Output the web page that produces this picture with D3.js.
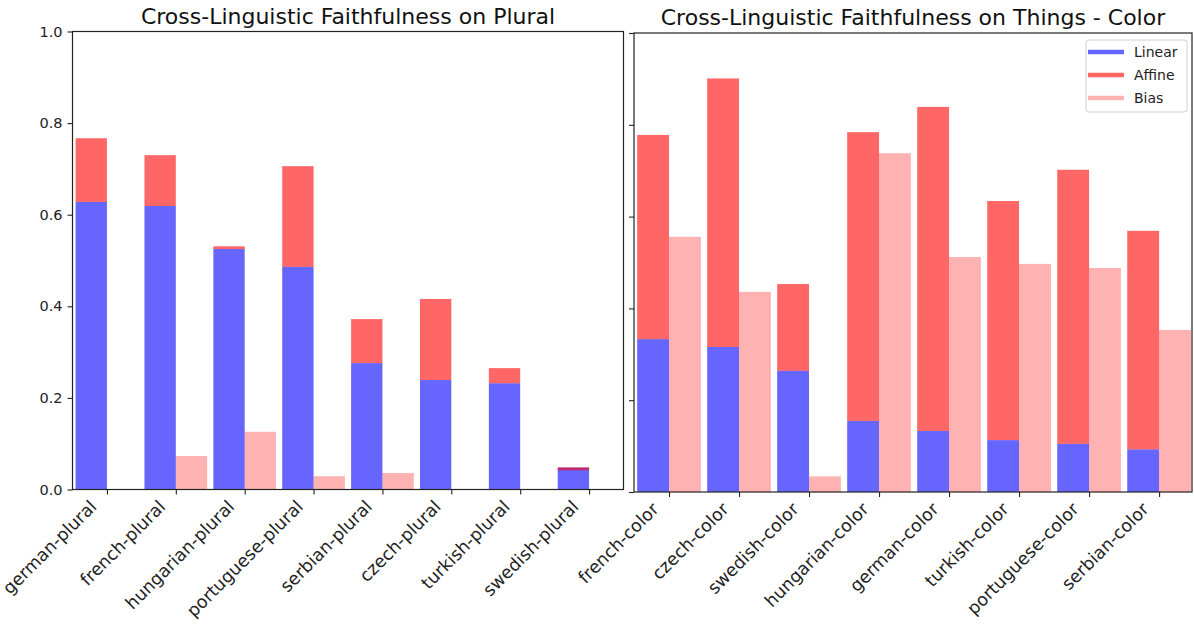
<!DOCTYPE html>
<html>
<head>
<meta charset="utf-8">
<script src="https://cdn.jsdelivr.net/npm/d3@7"></script>
<style>
  html, body { margin: 0; padding: 0; background: #fff; }
  svg { display: block; font-family: "DejaVu Sans", sans-serif; }
</style>
</head>
<body>
<svg id="chart" width="1194" height="628"></svg>
<script>
// Plural probe results
const pluralCats = ["german-plural", "french-plural", "hungarian-plural", "portuguese-plural",
                    "serbian-plural", "czech-plural", "turkish-plural", "swedish-plural"];
const pluralLinear = [0.628, 0.619, 0.525, 0.486, 0.276, 0.239, 0.232, 0.048];
const pluralAffine = [0.767, 0.730, 0.531, 0.706, 0.372, 0.416, 0.265, 0.042];
const pluralBias   = [0.000, 0.073, 0.126, 0.029, 0.036, 0.000, 0.000, 0.000];

// Things - Color probe results
const colorCats = ["french-color", "czech-color", "swedish-color", "hungarian-color",
                   "german-color", "turkish-color", "portuguese-color", "serbian-color"];
const colorLinear = [0.333, 0.316, 0.264, 0.155, 0.133, 0.113, 0.105, 0.093];
const colorAffine = [0.778, 0.901, 0.453, 0.784, 0.839, 0.634, 0.702, 0.569];
const colorBias   = [0.556, 0.436, 0.034, 0.738, 0.512, 0.497, 0.488, 0.353];

const yTicks = [0.0, 0.2, 0.4, 0.6, 0.8, 1.0];
const seriesNames = ["Linear", "Affine", "Bias"];

const COL = {
  Linear: { fill: "blue", op: 0.6 },
  Affine: { fill: "red", op: 0.6 },
  Bias:   { fill: "red", op: 0.3 }
};
const BAR_W = 0.455;

const svg = d3.select("#chart");

function panel(opts) {
  const { left, right, top, bottom, title, cats, linear, affine, bias, showYLabels, xMax } = opts;
  const x = d3.scaleLinear().domain([-0.5, xMax]).range([left, right]);
  const y = d3.scaleLinear().domain([0, 1]).range([bottom, top]);
  const g = svg.append("g");

  // Linear bars (left of each tick)
  g.selectAll(".lin").data(linear).join("rect")
    .attr("x", (d, i) => x(i - BAR_W))
    .attr("width", (d, i) => x(i) - x(i - BAR_W))
    .attr("y", d => y(d))
    .attr("height", d => y(0) - y(d))
    .attr("fill", COL.Linear.fill).attr("fill-opacity", COL.Linear.op);

  // Affine bars stacked from the linear value up (or down) to the affine value
  g.selectAll(".aff").data(affine).join("rect")
    .attr("x", (d, i) => x(i - BAR_W))
    .attr("width", (d, i) => x(i) - x(i - BAR_W))
    .attr("y", (d, i) => y(Math.max(d, linear[i])))
    .attr("height", (d, i) => Math.abs(y(linear[i]) - y(d)))
    .attr("fill", COL.Affine.fill).attr("fill-opacity", COL.Affine.op);

  // Bias bars (right of each tick)
  g.selectAll(".bias").data(bias).join("rect")
    .attr("x", (d, i) => x(i))
    .attr("width", (d, i) => x(i + BAR_W) - x(i))
    .attr("y", d => y(d))
    .attr("height", d => y(0) - y(d))
    .attr("fill", COL.Bias.fill).attr("fill-opacity", COL.Bias.op);

  // Y axis
  const yAxis = d3.axisLeft(y).tickValues(yTicks).tickSize(5).tickPadding(5)
    .tickFormat(showYLabels ? d3.format(".1f") : () => "");
  const ya = g.append("g").attr("transform", `translate(${left},0)`).call(yAxis);
  ya.select(".domain").remove();
  ya.selectAll("line").attr("stroke", "#222").attr("stroke-width", 1.1);
  ya.selectAll("text").attr("font-size", 14.5).attr("fill", "#222")
    .attr("font-family", "DejaVu Sans");

  // X axis with rotated category labels
  const xAxis = d3.axisBottom(x).tickValues(d3.range(cats.length)).tickSize(5)
    .tickFormat(() => "");
  const xa = g.append("g").attr("transform", `translate(0,${bottom})`).call(xAxis);
  xa.select(".domain").remove();
  xa.selectAll("line").attr("stroke", "#222").attr("stroke-width", 1.1);

  const fs = 17.5;
  const off = 0.53 * fs;
  g.selectAll(".xlab").data(cats).join("text")
    .attr("transform", (d, i) => `translate(${x(i) - off},${bottom + 9 + off}) rotate(-45)`)
    .attr("text-anchor", "end")
    .attr("font-size", fs)
    .attr("fill", "#222")
    .text(d => d);

  // Frame
  g.append("rect")
    .attr("x", left).attr("y", top)
    .attr("width", right - left).attr("height", bottom - top)
    .attr("fill", "none").attr("stroke", "#222").attr("stroke-width", 1.2);

  // Title
  g.append("text")
    .attr("x", (left + right) / 2).attr("y", top - 8)
    .attr("text-anchor", "middle")
    .attr("font-size", 22)
    .attr("fill", "#111")
    .text(title);

  return { x, y };
}

panel({
  left: 72.5, right: 623.5, top: 31.5, bottom: 489.5, xMax: 7.5,
  title: "Cross-Linguistic Faithfulness on Plural",
  cats: pluralCats, linear: pluralLinear, affine: pluralAffine, bias: pluralBias,
  showYLabels: true
});

panel({
  left: 634, right: 1192, top: 33, bottom: 492, xMax: 7.47,
  title: "Cross-Linguistic Faithfulness on Things - Color",
  cats: colorCats, linear: colorLinear, affine: colorAffine, bias: colorBias,
  showYLabels: false
});

// Legend
const lg = svg.append("g").attr("transform", "translate(1086,40)");
lg.append("rect")
  .attr("width", 101).attr("height", 72).attr("rx", 3)
  .attr("fill", "#fff").attr("fill-opacity", 0.8)
  .attr("stroke", "#d0d0d0").attr("stroke-width", 1);
seriesNames.forEach((name, i) => {
  const yy = 12 + i * 23;
  lg.append("line")
    .attr("x1", 2).attr("x2", 38).attr("y1", yy).attr("y2", yy)
    .attr("stroke", COL[name].fill).attr("stroke-opacity", COL[name].op)
    .attr("stroke-width", 4.5);
  lg.append("text")
    .attr("x", 48).attr("y", yy + 5)
    .attr("font-size", 14).attr("fill", "#222")
    .text(name);
});
</script>
</body>
</html>
